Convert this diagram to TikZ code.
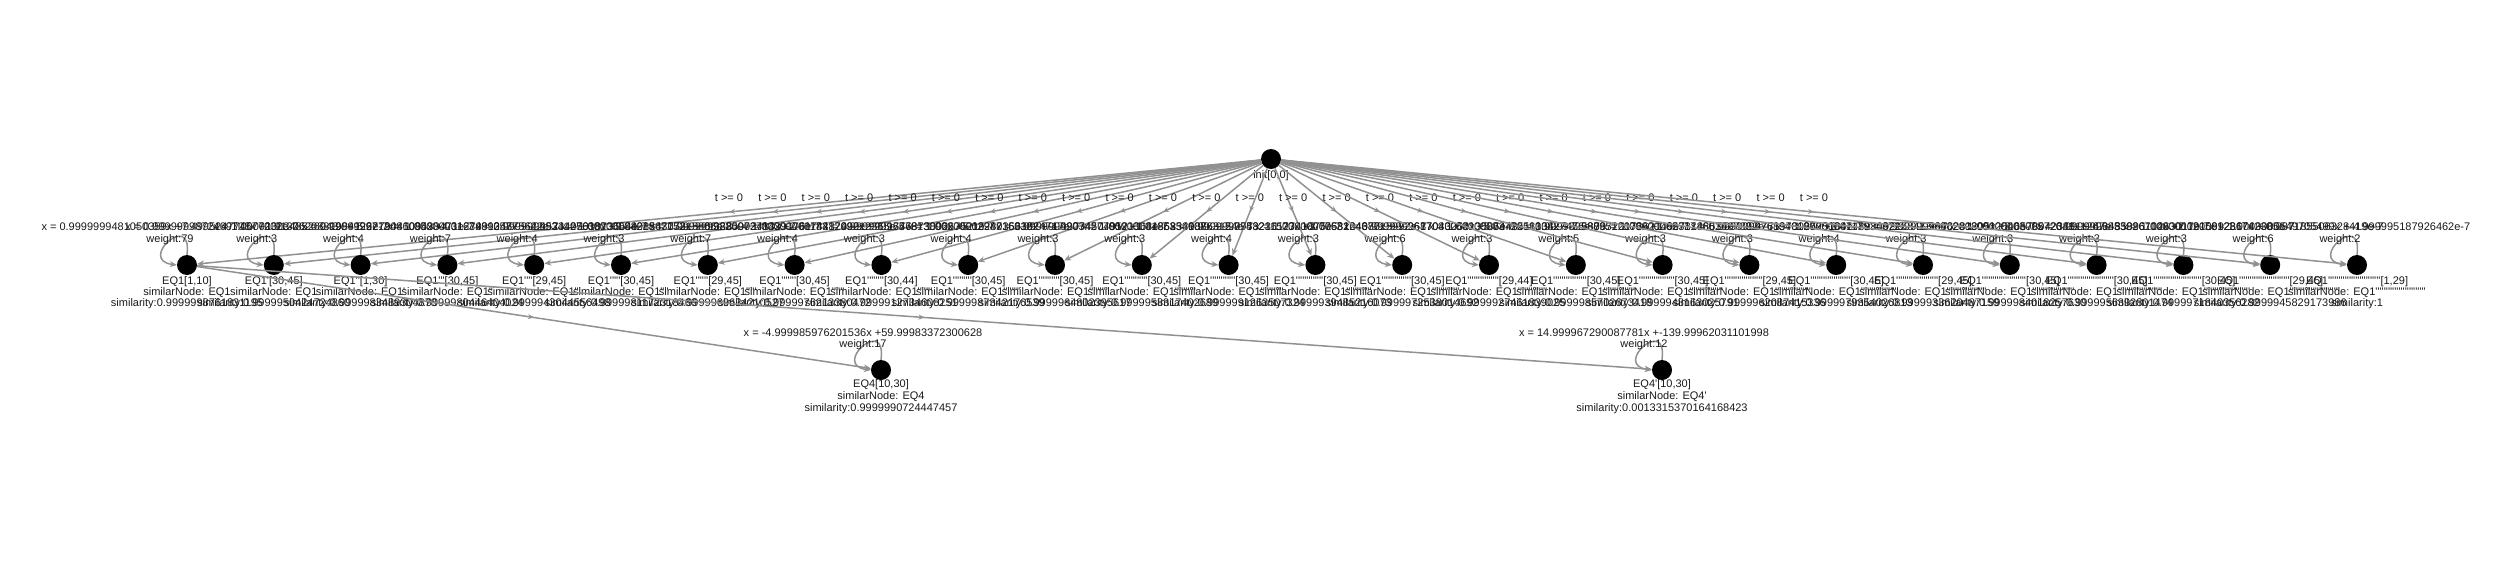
\documentclass[tikz,border=0pt]{standalone}
\usepackage{fontspec}
\setmainfont{Liberation Sans}[Ligatures=TeXOff]
\usetikzlibrary{arrows.meta,decorations.markings}
\definecolor{edgegray}{RGB}{145,145,145}
\newcommand\eqticks[1]{\ifnum#1>0 '\expandafter\eqticks\expandafter{\the\numexpr#1-1\relax}\fi}

\begin{document}
\begin{tikzpicture}[x=1pt,y=-1pt,
  statenode/.style={circle,fill=black,inner sep=0pt,minimum size=20pt},
  lbl/.style={font=\fontsize{11}{11}\selectfont,text=black!90,inner sep=0pt},
  selfloop/.style={draw=edgegray,line width=1.5pt,-{Stealth[length=7pt,width=6pt]}},
  trans/.style={selfloop,postaction={decorate},
    decoration={markings,mark=at position 0.5 with {\arrow{Stealth[length=6pt,width=5pt]}}}}]
\useasboundingbox (0,0) rectangle (2500,562);
\node[statenode] (init) at (1271,159) {};
\node[lbl,anchor=base] at (1271,178) {init[0,0]};
\foreach \k/\lo/\hi/\we/\fo/\sv in {
  1/1/10/79/0.9999999481050359x +7.499524774577232e-7/0.9999998761831195,
  2/30/45/3/0.9999999872469703x +1.9130620831984126e-7/0.9999950424724860,
  3/1/30/4/1.0000000348526943x +-5.227904109438471e-7/0.9999983489304878,
  4/30/45/7/0.9999999712486085x +4.312709124875642e-7/0.9999980446404024,
  5/29/45/4/1.0000000163489357x +-2.452340501873654e-7/0.9999943044556498,
  6/30/45/3/0.9999999934127638x +9.880854377215806e-8/0.9999981172318466,
  7/29/45/7/1.0000000421867153x +-6.328007278439176e-7/0.9999969634210527,
  8/30/45/4/0.9999999825903413x +2.611448799012365e-7/0.9999976213380472,
  9/30/44/3/1.0000000078312492x +-1.174687380267521e-7/0.9999912734608251,
  10/30/45/4/0.9999999657813096x +5.132803561924717e-7/0.9999987342176539,
  11/30/45/3/1.0000000294716338x +-4.420745049521368e-7/0.9999964802395617,
  12/30/45/3/0.9999999903427781x +1.448583318763154e-7/0.9999958317402689,
  13/30/45/4/1.0000000186354908x +-2.795323612741875e-7/0.9999991263507324,
  14/30/45/3/0.9999999748211573x +3.776826437015992e-7/0.9999939485216073,
  15/30/45/6/1.0000000053124687x +-7.968703006413586e-8/0.9999972538014692,
  16/29/44/3/0.9999999617043258x +5.744351130827476e-7/0.9999927461839025,
  17/30/45/5/1.0000000372058134x +-5.580872017362149e-7/0.9999985702673418,
  18/30/45/3/0.9999999889512076x +1.657318863407302e-7/0.9999948163025791,
  19/29/45/3/1.0000000231746519x +-3.476197808625184e-7/0.9999962087415336,
  20/30/45/4/0.9999999768340127x +3.474898092158473e-7/0.9999979354026813,
  21/29/45/3/1.0000000117934872x +-1.769023080912546e-7/0.9999933620487159,
  22/30/45/3/0.9999999946281305x +8.057804238911267e-8/0.9999984018257630,
  23/30/45/3/1.0000000309572641x +-4.643589610263017e-7/0.9999956392801474,
  24/30/45/3/0.9999999853926714x +2.191099281742305e-7/0.9999971840356282,
  25/29/45/6/1.0000000205812367x +-3.087185506328419e-7/0.9999945829173986,
  26/1/29/2/1.0000000549705499x +-4.999995187926462e-7/1}{
  \pgfmathsetmacro\nx{187+86.8*(\k-1)}
  \pgfmathtruncatemacro\np{\k-1}
  \pgfmathtruncatemacro\ns{max(\k-2,0)}
  \node[statenode] (q\k) at (\nx,265) {};
  \draw[selfloop] (q\k.north) .. controls +(6,-45) and +(-40,-5) .. (q\k.west);
  \node[lbl,anchor=base] at (\nx-17,230) {x = \fo};
  \node[lbl,anchor=base] at (\nx-17,242) {weight:\we};
  \node[lbl,anchor=base] at (\nx,284) {EQ1\eqticks{\np}[\lo,\hi]};
  \node[lbl,anchor=base] at (\nx,295) {similarNode: EQ1\eqticks{\ns}};
  \node[lbl,anchor=base] at (\nx,306) {similarity:\sv};
  \draw[trans] (init) -- node[lbl,yshift=14pt] {t >= 0} (q\k);
}
% the two EQ4 states
\node[statenode] (eqfour) at (881,370) {};
\draw[selfloop] (eqfour.north) .. controls +(6,-45) and +(-40,-5) .. (eqfour.west);
\node[lbl,anchor=base] at (863,336) {x = -4.999985976201536x +59.99983372300628};
\node[lbl,anchor=base] at (863,347) {weight:17};
\node[lbl,anchor=base] at (881,387) {EQ4[10,30]};
\node[lbl,anchor=base] at (881,399) {similarNode: EQ4};
\node[lbl,anchor=base] at (881,411) {similarity:0.9999990724447457};
\node[statenode] (eqfourp) at (1662,370) {};
\draw[selfloop] (eqfourp.north) .. controls +(6,-45) and +(-40,-5) .. (eqfourp.west);
\node[lbl,anchor=base] at (1644,336) {x = 14.999967290087781x +-139.99962031101998};
\node[lbl,anchor=base] at (1644,347) {weight:12};
\node[lbl,anchor=base] at (1662,387) {EQ4'[10,30]};
\node[lbl,anchor=base] at (1662,399) {similarNode: EQ4'};
\node[lbl,anchor=base] at (1662,411) {similarity:0.0013315370164168423};
\draw[trans] (q1) -- (eqfour);
\draw[trans] (q1) -- (eqfourp);
\end{tikzpicture}
\end{document}
